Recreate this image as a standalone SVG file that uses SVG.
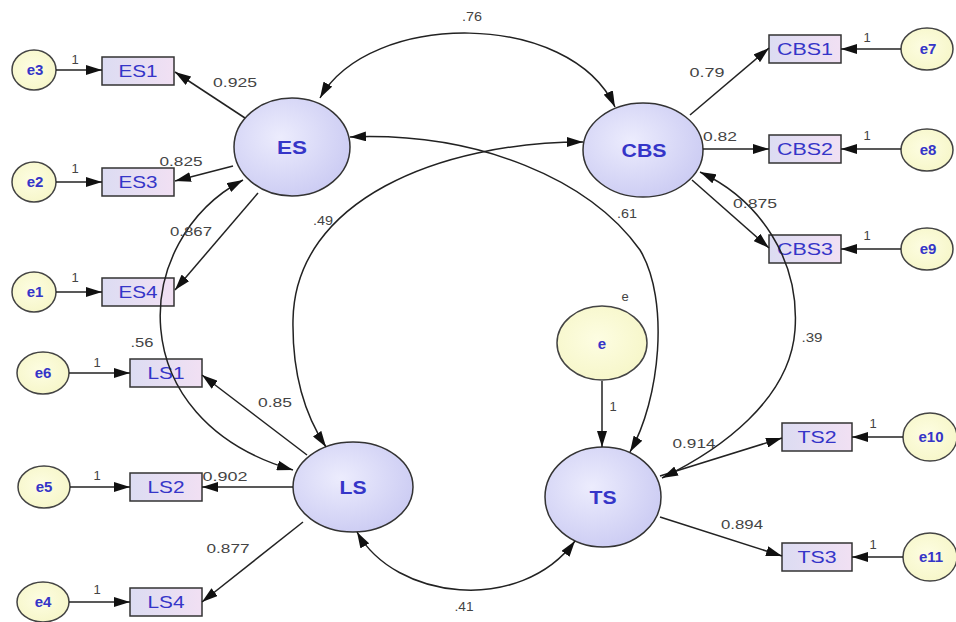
<svg xmlns="http://www.w3.org/2000/svg" width="956" height="622" viewBox="0 0 956 622">
<defs>
  <radialGradient id="latG" cx="0.4" cy="0.4" r="0.7">
    <stop offset="0" stop-color="#ececfd"/>
    <stop offset="1" stop-color="#c9c9f2"/>
  </radialGradient>
  <linearGradient id="obsG" x1="0" y1="0" x2="1" y2="0">
    <stop offset="0" stop-color="#dcdcf2"/>
    <stop offset="1" stop-color="#f1e0f3"/>
  </linearGradient>
  <radialGradient id="errG" cx="0.45" cy="0.45" r="0.7">
    <stop offset="0" stop-color="#fdfde2"/>
    <stop offset="1" stop-color="#f5f5c4"/>
  </radialGradient>
  <marker id="ah" viewBox="0 0 16 10" refX="16" refY="5" markerWidth="16" markerHeight="10" markerUnits="userSpaceOnUse" orient="auto-start-reverse">
    <path d="M0,0 L16,5 L0,10 z" fill="#111"/>
  </marker>
</defs>
<style>
  .lat { fill: url(#latG); stroke: #333; stroke-width: 1.5; }
  .obs { fill: url(#obsG); stroke: #333; stroke-width: 1.5; }
  .err { fill: url(#errG); stroke: #444; stroke-width: 1.5; }
  .c { fill: none; stroke: #222; stroke-width: 1.5; marker-end: url(#ah); }
  .cv { fill: none; stroke: #222; stroke-width: 1.5; marker-end: url(#ah); marker-start: url(#ah); }
  .t { font-family: "Liberation Sans", Arial, sans-serif; fill: #3535c8; text-anchor: middle; }
  .tl { font-size: 19px; font-weight: bold; }
  .to { font-size: 17px; }
  .te { font-size: 15px; font-weight: bold; }
  .n { font-family: "Liberation Sans", Arial, sans-serif; font-size: 13px; fill: #444; text-anchor: middle; }
</style>
<rect width="956" height="622" fill="#fff"/>

<g id="ES"><ellipse class="lat" cx="292" cy="147" rx="58" ry="49"/><text class="t tl" x="292" y="154" textLength="30" lengthAdjust="spacingAndGlyphs">ES</text></g>
<g id="CBS"><ellipse class="lat" cx="643" cy="150" rx="60" ry="47"/><text class="t tl" x="644" y="157" textLength="45" lengthAdjust="spacingAndGlyphs">CBS</text></g>
<g id="LS"><ellipse class="lat" cx="353" cy="487" rx="60" ry="45"/><text class="t tl" x="353" y="494" textLength="27" lengthAdjust="spacingAndGlyphs">LS</text></g>
<g id="TS"><ellipse class="lat" cx="603" cy="497" rx="58" ry="50"/><text class="t tl" x="603" y="504" textLength="27" lengthAdjust="spacingAndGlyphs">TS</text></g>
<g id="e"><ellipse class="err" cx="602" cy="343" rx="45" ry="37"/><text class="t te" x="602" y="349">e</text><text class="n" x="625" y="301">e</text></g>

<g id="ES1"><rect class="obs" x="102" y="57" width="72" height="28"/><text class="t to" x="138" y="77" textLength="39" lengthAdjust="spacingAndGlyphs">ES1</text></g>
<g id="ES3"><rect class="obs" x="102" y="168" width="72" height="28"/><text class="t to" x="138" y="188" textLength="39" lengthAdjust="spacingAndGlyphs">ES3</text></g>
<g id="ES4"><rect class="obs" x="102" y="278" width="72" height="28"/><text class="t to" x="138" y="298" textLength="39" lengthAdjust="spacingAndGlyphs">ES4</text></g>
<g id="LS1"><rect class="obs" x="130" y="359" width="72" height="28"/><text class="t to" x="166" y="379" textLength="37" lengthAdjust="spacingAndGlyphs">LS1</text></g>
<g id="LS2"><rect class="obs" x="130" y="473" width="72" height="28"/><text class="t to" x="166" y="493" textLength="37" lengthAdjust="spacingAndGlyphs">LS2</text></g>
<g id="LS4"><rect class="obs" x="130" y="588" width="72" height="28"/><text class="t to" x="166" y="608" textLength="37" lengthAdjust="spacingAndGlyphs">LS4</text></g>
<g id="CBS1"><rect class="obs" x="769" y="35" width="72" height="28"/><text class="t to" x="805" y="55" textLength="56" lengthAdjust="spacingAndGlyphs">CBS1</text></g>
<g id="CBS2"><rect class="obs" x="769" y="135" width="72" height="28"/><text class="t to" x="805" y="155" textLength="56" lengthAdjust="spacingAndGlyphs">CBS2</text></g>
<g id="CBS3"><rect class="obs" x="769" y="235" width="72" height="28"/><text class="t to" x="805" y="255" textLength="56" lengthAdjust="spacingAndGlyphs">CBS3</text></g>
<g id="TS2"><rect class="obs" x="782" y="423" width="70" height="28"/><text class="t to" x="817" y="443" textLength="39" lengthAdjust="spacingAndGlyphs">TS2</text></g>
<g id="TS3"><rect class="obs" x="782" y="543" width="70" height="28"/><text class="t to" x="817" y="563" textLength="39" lengthAdjust="spacingAndGlyphs">TS3</text></g>

<g id="e3"><ellipse class="err" cx="34" cy="70" rx="22" ry="20"/><text class="t te" x="35" y="75">e3</text></g>
<g id="e2"><ellipse class="err" cx="34" cy="182" rx="22" ry="20"/><text class="t te" x="35" y="187">e2</text></g>
<g id="e1"><ellipse class="err" cx="34" cy="292" rx="22" ry="20"/><text class="t te" x="35" y="297">e1</text></g>
<g id="e6"><ellipse class="err" cx="43" cy="373" rx="26" ry="21"/><text class="t te" x="43" y="378">e6</text></g>
<g id="e5"><ellipse class="err" cx="44" cy="487" rx="26" ry="21"/><text class="t te" x="44" y="492">e5</text></g>
<g id="e4"><ellipse class="err" cx="43" cy="602" rx="26" ry="20"/><text class="t te" x="43" y="607">e4</text></g>
<g id="e7"><ellipse class="err" cx="927" cy="49" rx="26" ry="21"/><text class="t te" x="928" y="54">e7</text></g>
<g id="e8"><ellipse class="err" cx="927" cy="150" rx="26" ry="21"/><text class="t te" x="928" y="155">e8</text></g>
<g id="e9"><ellipse class="err" cx="927" cy="249" rx="26" ry="21"/><text class="t te" x="928" y="254">e9</text></g>
<g id="e10"><ellipse class="err" cx="930" cy="437" rx="27" ry="24"/><text class="t te" x="931" y="442">e10</text></g>
<g id="e11"><ellipse class="err" cx="930" cy="557" rx="27" ry="24"/><text class="t te" x="931" y="562">e11</text></g>

<g id="connectors">
  <path class="c" d="M56,70 L102,70"/>
  <path class="c" d="M56,182 L102,182"/>
  <path class="c" d="M56,292 L102,292"/>
  <path class="c" d="M69,373 L130,373"/>
  <path class="c" d="M70,487 L130,487"/>
  <path class="c" d="M69,602 L130,602"/>
  <path class="c" d="M901,49 L841,49"/>
  <path class="c" d="M901,149 L841,149"/>
  <path class="c" d="M901,249 L841,249"/>
  <path class="c" d="M903,437 L852,437"/>
  <path class="c" d="M903,557 L852,557"/>
  <path class="c" d="M602,381 L602,447"/>
  <path class="c" d="M245,118 L175,72"/>
  <path class="c" d="M233,166 L175,181"/>
  <path class="c" d="M258,193 L175,290"/>
  <path class="c" d="M307,455 L202,375"/>
  <path class="c" d="M293,487 L202,487"/>
  <path class="c" d="M303,522 L202,602"/>
  <path class="c" d="M690,115 L769,48"/>
  <path class="c" d="M703,149 L769,149"/>
  <path class="c" d="M692,180 L769,248"/>
  <path class="c" d="M660,476 L782,438"/>
  <path class="c" d="M660,517 L782,556"/>
  <path class="cv" d="M320,98 C370,10 570,10 615,107"/>
  <path class="cv" d="M350,137 C480,132 590,180 640,250 C670,300 660,400 630,452"/>
  <path class="cv" d="M583,142 C440,142 295,200 293,320 C292,380 308,420 326,447"/>
  <path class="cv" d="M243,180 C130,240 120,420 293,470"/>
  <path class="cv" d="M700,172 C760,200 800,260 795,330 C790,400 720,450 662,478"/>
  <path class="cv" d="M357,532 C395,600 520,615 575,541"/>
</g>

<g id="labels">
  <text class="n" x="75" y="64">1</text>
  <text class="n" x="75" y="173">1</text>
  <text class="n" x="75" y="282">1</text>
  <text class="n" x="97" y="367">1</text>
  <text class="n" x="97" y="480">1</text>
  <text class="n" x="97" y="594">1</text>
  <text class="n" x="867" y="42">1</text>
  <text class="n" x="867" y="140">1</text>
  <text class="n" x="867" y="240">1</text>
  <text class="n" x="873" y="428">1</text>
  <text class="n" x="873" y="549">1</text>
  <text class="n" x="613" y="411">1</text>
  <text class="n" x="235" y="87" textLength="44" lengthAdjust="spacingAndGlyphs">0.925</text>
  <text class="n" x="181" y="166" textLength="43" lengthAdjust="spacingAndGlyphs">0.825</text>
  <text class="n" x="191" y="236" textLength="42" lengthAdjust="spacingAndGlyphs">0.867</text>
  <text class="n" x="142" y="347" textLength="23" lengthAdjust="spacingAndGlyphs">.56</text>
  <text class="n" x="275" y="407" textLength="34" lengthAdjust="spacingAndGlyphs">0.85</text>
  <text class="n" x="225" y="481" textLength="45" lengthAdjust="spacingAndGlyphs">0.902</text>
  <text class="n" x="228" y="553" textLength="43" lengthAdjust="spacingAndGlyphs">0.877</text>
  <text class="n" x="464" y="611" textLength="19" lengthAdjust="spacingAndGlyphs">.41</text>
  <text class="n" x="472" y="21" textLength="20" lengthAdjust="spacingAndGlyphs">.76</text>
  <text class="n" x="323" y="225" textLength="20" lengthAdjust="spacingAndGlyphs">.49</text>
  <text class="n" x="707" y="77" textLength="35" lengthAdjust="spacingAndGlyphs">0.79</text>
  <text class="n" x="720" y="141" textLength="34" lengthAdjust="spacingAndGlyphs">0.82</text>
  <text class="n" x="755" y="208" textLength="44" lengthAdjust="spacingAndGlyphs">0.875</text>
  <text class="n" x="627" y="218" textLength="20" lengthAdjust="spacingAndGlyphs">.61</text>
  <text class="n" x="812" y="342" textLength="21" lengthAdjust="spacingAndGlyphs">.39</text>
  <text class="n" x="694" y="448" textLength="43" lengthAdjust="spacingAndGlyphs">0.914</text>
  <text class="n" x="742" y="529" textLength="42" lengthAdjust="spacingAndGlyphs">0.894</text>
</g>
</svg>
